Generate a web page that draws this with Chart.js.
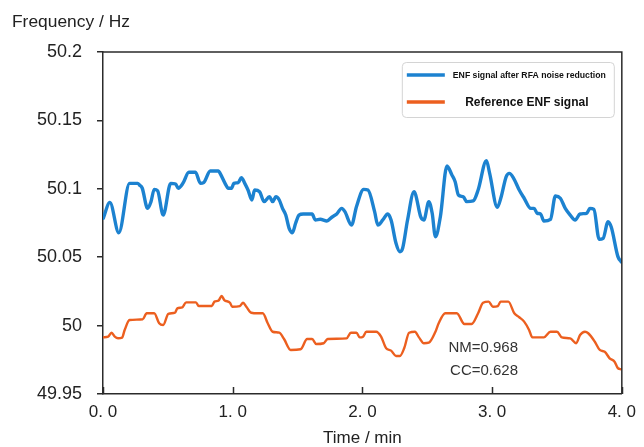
<!DOCTYPE html>
<html lang="en">
<head>
  <meta charset="UTF-8">
  <title>ENF comparison</title>
  <script src="https://cdn.jsdelivr.net/npm/chart.js"></script>
  <style>
    html, body { margin: 0; padding: 0; background: #fff; }
    #enfChart { display: block; }
  </style>
</head>
<body>
<canvas id="enfChart" width="644" height="447"></canvas>

<script>
// ENF trace after RFA noise reduction (time in min, frequency in Hz)
const enfTime = [0.002,0.053,0.122,0.205,0.268,0.281,0.302,0.344,0.370,0.395,
  0.421,0.464,0.522,0.560,0.580,0.616,0.662,0.713,0.751,0.776,
  0.827,0.890,0.903,0.941,0.966,0.991,1.009,1.042,1.067,1.093,
  1.118,1.148,1.169,1.207,1.242,1.283,1.308,1.333,1.359,1.384,
  1.409,1.435,1.460,1.485,1.511,1.544,1.612,1.637,1.675,1.726,
  1.764,1.802,1.840,1.865,1.916,1.954,2.010,2.043,2.094,2.119,
  2.157,2.195,2.221,2.259,2.289,2.310,2.348,2.398,2.411,2.449,
  2.474,2.512,2.538,2.563,2.601,2.652,2.690,2.715,2.740,2.778,
  2.804,2.854,2.892,2.956,2.981,3.040,3.070,3.108,3.133,3.166,
  3.209,3.247,3.298,3.323,3.348,3.374,3.399,3.450,3.488,3.526,
  3.564,3.602,3.640,3.678,3.729,3.754,3.785,3.825,3.856,3.894,
  3.919,3.970,3.995];
const enfFreq = [50.0784,50.0901,50.0679,50.1040,50.1040,50.1028,50.1006,50.0857,50.0906,50.0996,
  50.0986,50.0808,50.1040,50.1035,50.1004,50.1040,50.1121,50.1121,50.1040,50.1045,
  50.1130,50.1130,50.1113,50.1040,50.1004,50.1004,50.1040,50.1045,50.1081,50.1040,
  50.0991,50.0918,50.0991,50.0979,50.0906,50.0942,50.0906,50.0942,50.0918,50.0857,
  50.0808,50.0711,50.0679,50.0748,50.0808,50.0816,50.0816,50.0772,50.0777,50.0765,
  50.0792,50.0816,50.0857,50.0833,50.0735,50.0869,50.0996,50.0991,50.0833,50.0735,
  50.0772,50.0816,50.0772,50.0602,50.0540,50.0565,50.0772,50.0979,50.0955,50.0796,
  50.0772,50.0906,50.0821,50.0650,50.0796,50.1167,50.1101,50.1052,50.0955,50.0942,
  50.0906,50.0911,50.0991,50.1205,50.1113,50.0865,50.0942,50.1088,50.1113,50.1077,
  50.0991,50.0931,50.0857,50.0857,50.0821,50.0816,50.0765,50.0777,50.0947,50.0931,
  50.0857,50.0808,50.0772,50.0816,50.0821,50.0857,50.0850,50.0631,50.0638,50.0760,
  50.0719,50.0504,50.0467];

// reference ENF from the grid
const refTime = [0.002,0.040,0.066,0.091,0.116,0.147,0.167,0.205,0.306,0.337,
  0.395,0.433,0.464,0.504,0.555,0.573,0.611,0.641,0.717,0.738,
  0.839,0.859,0.890,0.915,0.935,0.979,0.996,1.055,1.080,1.105,
  1.143,1.194,1.232,1.270,1.308,1.359,1.397,1.447,1.523,1.574,
  1.612,1.645,1.701,1.732,1.878,1.911,1.954,1.979,2.005,2.030,
  2.106,2.144,2.183,2.221,2.259,2.289,2.322,2.360,2.405,2.436,
  2.474,2.512,2.563,2.588,2.639,2.728,2.786,2.842,2.892,2.930,
  2.973,3.006,3.044,3.065,3.125,3.171,3.209,3.247,3.285,3.310,
  3.399,3.450,3.500,3.538,3.602,3.648,3.678,3.716,3.741,3.792,
  3.830,3.868,3.906,3.944,3.970,3.995];
const refFreq = [49.9914,49.9919,49.9948,49.9919,49.9907,49.9912,49.9968,50.0041,50.0046,50.0090,
  50.0090,50.0017,50.0004,50.0085,50.0094,50.0126,50.0134,50.0170,50.0170,50.0143,
  50.0143,50.0175,50.0182,50.0216,50.0187,50.0167,50.0138,50.0143,50.0167,50.0138,
  50.0094,50.0090,50.0090,50.0017,49.9955,49.9948,49.9900,49.9822,49.9827,49.9902,
  49.9902,49.9865,49.9871,49.9902,49.9907,49.9948,49.9948,49.9914,49.9919,49.9955,
  49.9955,49.9919,49.9834,49.9817,49.9778,49.9778,49.9834,49.9948,49.9955,49.9914,
  49.9871,49.9875,49.9955,50.0017,50.0090,50.0090,50.0012,50.0012,50.0090,50.0167,
  50.0175,50.0138,50.0143,50.0175,50.0175,50.0090,50.0061,50.0029,49.9968,49.9914,
  49.9914,49.9955,49.9955,49.9914,49.9907,49.9871,49.9931,49.9955,49.9944,49.9882,
  49.9822,49.9809,49.9761,49.9736,49.9688,49.9681];

const xTickLabels = ["0. 0", "1. 0", "2. 0", "3. 0", "4. 0"];
const yTickLabels = ["49.95", "50", "50.05", "50.1", "50.15", "50.2"];
const scoreLines = ["NM=0.968", "CC=0.628"];

const AXIS_COLOR = "#2b2b2b";
const TEXT_COLOR = "#222";
const FONT = "'Liberation Sans', Arial, sans-serif";

function toPoints(xs, ys) {
  return xs.map((x, i) => ({ x: x, y: ys[i] }));
}

// frame, inward x ticks, y title, legend box and score text
const decorations = {
  id: "decorations",
  afterDraw(chart) {
    const ctx = chart.ctx;
    const a = chart.chartArea;
    const xs = chart.scales.x;
    const ys = chart.scales.y;
    ctx.save();

    // top and right edges of the frame
    ctx.strokeStyle = AXIS_COLOR;
    ctx.lineWidth = 1.5;
    ctx.beginPath();
    ctx.moveTo(a.left, a.top);
    ctx.lineTo(a.right, a.top);
    ctx.lineTo(a.right, a.bottom);
    ctx.stroke();

    // x ticks point up into the plot
    ctx.beginPath();
    xs.ticks.forEach(t => {
      const px = Math.round(xs.getPixelForValue(t.value)) + 0.5;
      ctx.moveTo(px, a.bottom);
      ctx.lineTo(px, a.bottom - 7);
    });
    ctx.stroke();

    // y axis title, horizontal above the axis
    ctx.fillStyle = TEXT_COLOR;
    ctx.font = "17.4px " + FONT;
    ctx.textAlign = "left";
    ctx.textBaseline = "middle";
    ctx.fillText("Frequency / Hz", 12, 22);

    // legend
    const bx = a.right - 220, by = a.top + 10, bw = 212, bh = 55;
    ctx.fillStyle = "#fff";
    ctx.strokeStyle = "#d4d4d4";
    ctx.lineWidth = 1;
    ctx.beginPath();
    ctx.roundRect(bx + 0.5, by + 0.5, bw, bh, 4);
    ctx.fill();
    ctx.stroke();

    const ds = chart.data.datasets;
    const rows = [
      { y: by + 13, font: "bold 8.7px " + FONT, tx: bx + 51, align: "left" },
      { y: by + 40, font: "bold 12px " + FONT, tx: bx + 125, align: "center" }
    ];
    rows.forEach((r, i) => {
      ctx.strokeStyle = ds[i].borderColor;
      ctx.lineWidth = 3.5;
      ctx.lineCap = "butt";
      ctx.beginPath();
      ctx.moveTo(bx + 5, r.y);
      ctx.lineTo(bx + 43, r.y);
      ctx.stroke();
      ctx.fillStyle = "#111";
      ctx.font = r.font;
      ctx.textAlign = r.align;
      ctx.fillText(ds[i].label, r.tx, r.y + 0.5);
    });

    // similarity scores, right aligned
    ctx.fillStyle = "#333";
    ctx.font = "15px " + FONT;
    ctx.textAlign = "right";
    const sx = xs.getPixelForValue(3.2);
    ctx.fillText(scoreLines[0], sx, ys.getPixelForValue(49.9836));
    ctx.fillText(scoreLines[1], sx, ys.getPixelForValue(49.9670));

    ctx.restore();
  }
};

const ctx = document.getElementById("enfChart").getContext("2d");
new Chart(ctx, {
  type: "line",
  data: {
    datasets: [
      {
        label: "ENF signal after RFA noise reduction",
        data: toPoints(enfTime, enfFreq),
        borderColor: "#1c82d0",
        borderWidth: 3.4,
        pointRadius: 0,
        cubicInterpolationMode: "monotone",
        borderJoinStyle: "round",
        borderCapStyle: "round"
      },
      {
        label: "Reference ENF signal",
        data: toPoints(refTime, refFreq),
        borderColor: "#ec5f1f",
        borderWidth: 2.4,
        pointRadius: 0,
        cubicInterpolationMode: "monotone",
        borderJoinStyle: "round",
        borderCapStyle: "round"
      }
    ]
  },
  options: {
    responsive: false,
    animation: false,
    layout: { padding: { top: 52, right: 16, left: 0, bottom: 0 } },
    plugins: {
      legend: { display: false },
      tooltip: { enabled: false }
    },
    scales: {
      x: {
        type: "linear",
        min: 0,
        max: 4,
        afterFit: s => { s.height = 53; },
        ticks: {
          stepSize: 1,
          padding: 8,
          color: TEXT_COLOR,
          font: { size: 17, family: FONT },
          maxRotation: 0,
          callback: (v, i) => xTickLabels[i]
        },
        grid: { drawOnChartArea: false, drawTicks: false },
        border: { color: AXIS_COLOR, width: 1.5 },
        title: {
          display: true,
          text: "Time / min",
          color: TEXT_COLOR,
          font: { size: 17, family: FONT },
          padding: { top: 0, bottom: -2 }
        }
      },
      y: {
        min: 49.95,
        max: 50.2,
        afterFit: s => { s.width = 103; },
        ticks: {
          stepSize: 0.05,
          padding: 15,
          color: TEXT_COLOR,
          font: { size: 18, family: FONT },
          callback: (v, i) => yTickLabels[i]
        },
        grid: { drawOnChartArea: false, drawTicks: true, tickLength: 6, color: AXIS_COLOR, lineWidth: 1.5 },
        border: { color: AXIS_COLOR, width: 1.5 }
      }
    }
  },
  plugins: [decorations]
});
</script>
</body>
</html>
